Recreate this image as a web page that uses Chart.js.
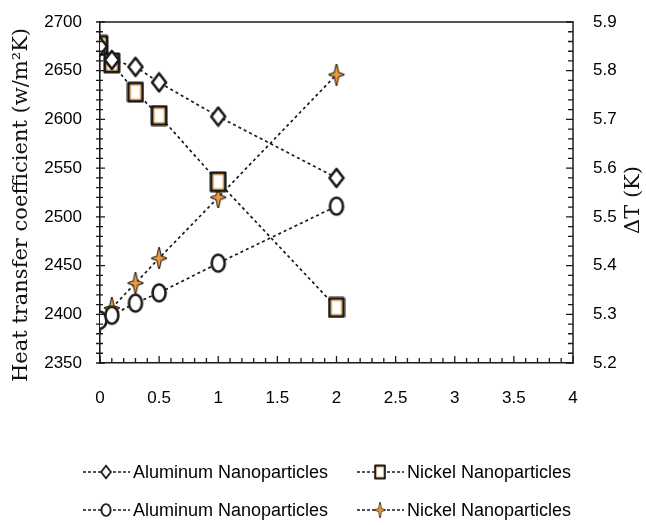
<!DOCTYPE html>
<html>
<head>
<meta charset="utf-8">
<style>
  html, body { margin: 0; padding: 0; background: #fff; }
  canvas { display: block; }
</style>
</head>
<body>
<canvas id="chart" width="646" height="525"></canvas>
<script src="https://cdn.jsdelivr.net/npm/chart.js@4/dist/chart.umd.min.js"></script>
<script>
// nanoparticle volume fraction (%) on x
var loadings = [0, 0.1, 0.3, 0.5, 1, 2];

// left axis: heat transfer coefficient (w/m2K)
var alHtc = [2675, 2661, 2654, 2638, 2603, 2540];
var niHtc = [2676, 2658, 2628, 2604, 2536, 2407];

// right axis: delta T (K)
var alDt = [5.288, 5.298, 5.323, 5.344, 5.405, 5.522];
var niDt = [5.285, 5.313, 5.364, 5.415, 5.54, 5.792];

var seriesLabels = ["Aluminum Nanoparticles", "Nickel Nanoparticles",
                    "Aluminum Nanoparticles", "Nickel Nanoparticles"];

// major tick labels
var xMajor = [0, 0.5, 1, 1.5, 2, 2.5, 3, 3.5, 4];
var yMajor = [2350, 2400, 2450, 2500, 2550, 2600, 2650, 2700];
var y1Major = [5.2, 5.3, 5.4, 5.5, 5.6, 5.7, 5.8, 5.9];

var ORANGE = "#f29a38";
var INK = "#1a1a1a";
var TICK_FONT = "'Liberation Sans', Arial, sans-serif";
var TITLE_FONT = "'DejaVu Serif', serif";

function makeMarker(kind){
	var c = document.createElement("canvas");
	var w = 18, h = 22;
	c.width = w; c.height = h;
	var g = c.getContext("2d");
	g.lineJoin = "round";
	if(kind == "diamond"){
		g.beginPath();
		g.moveTo(9, 2); g.lineTo(16, 11); g.lineTo(9, 20); g.lineTo(2, 11);
		g.closePath();
		g.fillStyle = "#fff"; g.fill();
		g.lineWidth = 2.6; g.strokeStyle = INK; g.stroke();
	}else if(kind == "square"){
		g.fillStyle = "#fff";
		g.fillRect(2, 2, 14, 18);
		g.lineWidth = 3; g.strokeStyle = INK;
		g.strokeRect(2, 2, 14, 18);
		g.lineWidth = 1; g.strokeStyle = ORANGE;
		g.strokeRect(4, 4, 10, 14);
	}else if(kind == "circle"){
		g.beginPath();
		g.ellipse(9, 11, 6.5, 8.5, 0, 0, Math.PI * 2);
		g.fillStyle = "#fff"; g.fill();
		g.lineWidth = 2.6; g.strokeStyle = INK; g.stroke();
	}else{
		g.beginPath();
		g.moveTo(9, 1); g.lineTo(10.8, 9.2); g.lineTo(16, 11); g.lineTo(10.8, 12.8);
		g.lineTo(9, 21); g.lineTo(7.2, 12.8); g.lineTo(2, 11); g.lineTo(7.2, 9.2);
		g.closePath();
		g.lineWidth = 2; g.strokeStyle = INK; g.stroke();
		g.fillStyle = ORANGE; g.fill();
	}
	return c;
}

var markers = [makeMarker("diamond"), makeMarker("square"), makeMarker("circle"), makeMarker("star")];

function pairs(ys){
	return loadings.map(function(x, i){ return {x: x, y: ys[i]}; });
}

function majorOnly(list, digits){
	return function(v){
		for(var m of list){
			if(Math.abs(v - m) < 1e-6) return digits ? m.toFixed(digits) : String(m);
		}
		return "";
	};
}

function dataset(i, ys, axis){
	return {
		label: seriesLabels[i],
		data: pairs(ys),
		yAxisID: axis,
		borderColor: INK,
		borderWidth: 1.7,
		borderDash: [3, 3],
		fill: false,
		tension: 0,
		pointStyle: markers[i],
		pointRadius: 9,
		pointHoverRadius: 9
	};
}

// border, minor ticks, axis titles and legend
var decor = {
	id: "decor",
	afterDraw: function(chart){
		var ctx = chart.ctx;
		var a = chart.chartArea;
		var sx = chart.scales.x, sy = chart.scales.y, sy1 = chart.scales.y1;
		ctx.save();

		ctx.strokeStyle = "#555";
		ctx.lineWidth = 2;
		ctx.beginPath();
		ctx.moveTo(a.left, a.top); ctx.lineTo(a.right, a.top);
		ctx.stroke();

		ctx.strokeStyle = INK;
		ctx.lineWidth = 1.3;
		ctx.beginPath();
		for(var t of sx.ticks){
			var p = sx.getPixelForValue(t.value);
			ctx.moveTo(p, a.bottom); ctx.lineTo(p, a.bottom - (t.label ? 7 : 5));
		}
		for(var t of sy.ticks){
			var p = sy.getPixelForValue(t.value);
			ctx.moveTo(a.left - 4, p); ctx.lineTo(a.left + (t.label ? 5 : 3), p);
		}
		for(var t of sy1.ticks){
			var p = sy1.getPixelForValue(t.value);
			ctx.moveTo(a.right, p); ctx.lineTo(a.right - (t.label ? 7 : 5), p);
		}
		ctx.stroke();

		// axis titles
		ctx.fillStyle = "#111";
		ctx.font = "21px " + TITLE_FONT;
		ctx.textAlign = "center";
		ctx.textBaseline = "middle";
		ctx.save();
		ctx.translate(22, 205);
		ctx.rotate(-Math.PI / 2);
		ctx.fillText("Heat transfer coefficient (w/m\u00b2K)", 0, 0);
		ctx.restore();
		ctx.save();
		ctx.translate(634, 200);
		ctx.rotate(-Math.PI / 2);
		ctx.fillText("\u0394T (K)", 0, 0);
		ctx.restore();

		// legend, two columns
		var colX = [83, 357], rowY = [472, 510];
		ctx.font = "18px " + TICK_FONT;
		ctx.textAlign = "left";
		chart.data.datasets.forEach(function(ds, i){
			var x = colX[i % 2], y = rowY[Math.floor(i / 2)];
			ctx.strokeStyle = INK;
			ctx.lineWidth = 1.4;
			ctx.setLineDash([3, 2]);
			ctx.beginPath();
			ctx.moveTo(x, y); ctx.lineTo(x + 47, y);
			ctx.stroke();
			ctx.setLineDash([]);
			var m = ds.pointStyle;
			ctx.drawImage(m, x + 23 - m.width * 0.35, y - m.height * 0.35, m.width * 0.7, m.height * 0.7);
			ctx.fillStyle = "#000";
			ctx.fillText(ds.label, x + 50, y + 1);
		});
		ctx.restore();
	}
};

function fitVertical(width){
	return function(s){
		s.width = width;
		s.paddingTop = 0;
		s.paddingBottom = 0;
	};
}

new Chart(document.getElementById("chart"), {
	type: "line",
	data: {
		datasets: [
			dataset(0, alHtc, "y"),
			dataset(1, niHtc, "y"),
			dataset(2, alDt, "y1"),
			dataset(3, niDt, "y1")
		]
	},
	options: {
		responsive: false,
		animation: false,
		layout: { padding: { top: 22, left: 0, right: 0, bottom: 100 } },
		plugins: { legend: { display: false }, tooltip: { enabled: false } },
		scales: {
			x: {
				type: "linear", min: 0, max: 4,
				ticks: { stepSize: 0.1, autoSkip: false, maxRotation: 0, color: "#000",
					font: { family: TICK_FONT, size: 17 }, padding: 25,
					callback: majorOnly(xMajor) },
				grid: { display: false, drawTicks: false },
				border: { display: true, color: INK, width: 1.6 },
				afterFit: function(s){ s.height = 62; s.paddingLeft = 0; s.paddingRight = 0; }
			},
			y: {
				position: "left", min: 2350, max: 2700,
				ticks: { stepSize: 10, autoSkip: false, color: "#000",
					font: { family: TICK_FONT, size: 17 }, padding: 18,
					callback: majorOnly(yMajor) },
				grid: { display: false, drawTicks: false },
				border: { display: true, color: INK, width: 1.6 },
				afterFit: fitVertical(100)
			},
			y1: {
				position: "right", min: 5.2, max: 5.9,
				ticks: { stepSize: 0.02, autoSkip: false, color: "#000",
					font: { family: TICK_FONT, size: 17 }, padding: 20,
					callback: majorOnly(y1Major, 1) },
				grid: { display: false, drawTicks: false },
				border: { display: true, color: "#555", width: 2 },
				afterFit: fitVertical(73)
			}
		}
	},
	plugins: [decor]
});
</script>
</body>
</html>
